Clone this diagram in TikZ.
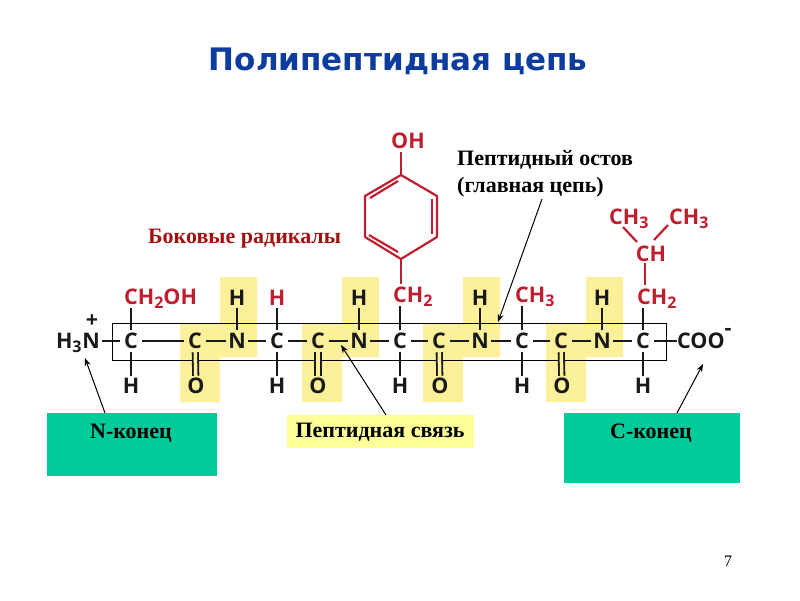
\documentclass[tikz,border=0pt]{standalone}
\usepackage{fontspec}
\usepackage{xcolor}
\usepackage{tikz}
\usetikzlibrary{positioning, arrows.meta}
\setmainfont{Liberation Serif}
\newfontfamily\chemfont{Open Sans}
\newfontfamily\titlefont{DejaVu Sans}
\definecolor{peptyellow}{HTML}{FDF09A}
\definecolor{labelyellow}{HTML}{FFFF99}
\definecolor{endgreen}{HTML}{00CC99}
\definecolor{sidered}{HTML}{BE1E2D}
\definecolor{labelred}{HTML}{A50F0F}
\definecolor{titleblue}{HTML}{0B3C9E}
\newcommand{\subatom}[1]{\raisebox{-3.5pt}{\fontsize{16}{16}\selectfont #1}}
\tikzset{
  atom/.style={font=\chemfont\bfseries\fontsize{21.5}{22}\selectfont, text=black!90, inner sep=0pt, minimum width=22pt, minimum height=22pt, text height=15pt, text depth=0pt},
  hatom/.style={atom, minimum width=14pt, minimum height=20pt},
  group/.style={font=\chemfont\bfseries\fontsize{21.5}{22}\selectfont, text=sidered, inner xsep=0pt, inner ysep=3pt, text height=15pt, text depth=0pt},
  bond/.style={draw=black!90, line width=2pt},
  sidebond/.style={draw=sidered, line width=2.2pt},
  dblbond/.style={bond, double=peptyellow, double distance=3.5pt, line width=1.8pt},
  pepblock/.style={fill=peptyellow, draw=none},
  caption/.style={font=\bfseries\fontsize{22}{27}\selectfont, inner sep=0pt},
  endbox/.style={fill=endgreen, draw=none, inner sep=0pt},
  pointer/.style={-{Stealth[length=8pt, width=6pt]}, black, line width=1pt}
}
\begin{document}
\begin{tikzpicture}[x=1pt, y=-1pt]
  \useasboundingbox (0,0) rectangle (800,600);

  \node[font=\titlefont\bfseries\fontsize{31}{31}\selectfont, text=titleblue, inner sep=0pt](title) at (398,61){Полипептидная цепь};

  \foreach \xs in {180,302,423,546}{
    \fill[pepblock] (\xs,323) -- (\xs+40,323) -- (\xs+40,277) -- (\xs+77,277) -- (\xs+77,357) -- (\xs+40,357) -- (\xs+40,402) -- (\xs,402) -- cycle;
  }
  \node[draw=black, line width=1pt, minimum width=554pt, minimum height=37pt, inner sep=0pt](backbone) at (389,341.5){};

  \node[atom](n0) at (91,341){N};
  \node[atom, left=-2pt of n0](h3){H\subatom{3}};
  \node[atom, minimum height=8pt, text height=11pt](plus) at (92,322){+};
  \node[atom](c1) at (131,341){C};
  \node[atom](c2) at (195,341){C};
  \node[atom](n1) at (237,341){N};
  \node[atom](c3) at (277,341){C};
  \node[atom](c4) at (318,341){C};
  \node[atom](n2) at (359,341){N};
  \node[atom](c5) at (400,341){C};
  \node[atom](c6) at (439,341){C};
  \node[atom](n3) at (480,341){N};
  \node[atom](c7) at (522,341){C};
  \node[atom](c8) at (561,341){C};
  \node[atom](n4) at (602,341){N};
  \node[atom](c9) at (643,341){C};
  \node[atom, anchor=west, inner sep=0pt](coo) at (677,341){COO};
  \node[atom, minimum height=6pt, minimum width=8pt, text height=6pt](minus) at (728,332){-};

  \draw[bond] (n0) -- (c1);
  \draw[bond] (c1) -- (c2);
  \draw[bond] (c2) -- (n1);
  \draw[bond] (n1) -- (c3);
  \draw[bond] (c3) -- (c4);
  \draw[bond] (c4) -- (n2);
  \draw[bond] (n2) -- (c5);
  \draw[bond] (c5) -- (c6);
  \draw[bond] (c6) -- (n3);
  \draw[bond] (n3) -- (c7);
  \draw[bond] (c7) -- (c8);
  \draw[bond] (c8) -- (n4);
  \draw[bond] (n4) -- (c9);
  \draw[bond] (c9) -- (coo);

  \node[hatom](h1) at (131,386){H};
  \node[hatom](h2) at (277,386){H};
  \node[hatom](h4) at (400,386){H};
  \node[hatom](h5) at (522,386){H};
  \node[hatom](h6) at (643,386){H};
  \draw[bond] (c1) -- (h1);
  \draw[bond] (c3) -- (h2);
  \draw[bond] (c5) -- (h4);
  \draw[bond] (c7) -- (h5);
  \draw[bond] (c9) -- (h6);

  \node[hatom](o1) at (196,386){O};
  \node[hatom](o2) at (318,386){O};
  \node[hatom](o3) at (440,386){O};
  \node[hatom](o4) at (562,386){O};
  \draw[dblbond] (c2) -- (o1);
  \draw[dblbond] (c4) -- (o2);
  \draw[dblbond] (c6) -- (o3);
  \draw[dblbond] (c8) -- (o4);

  \node[hatom](hn1) at (237,298){H};
  \node[hatom](hn2) at (359,298){H};
  \node[hatom](hn3) at (480,298){H};
  \node[hatom](hn4) at (602,298){H};
  \draw[bond] (n1) -- (hn1);
  \draw[bond] (n2) -- (hn2);
  \draw[bond] (n3) -- (hn3);
  \draw[bond] (n4) -- (hn4);

  \node[group, anchor=west](ch2oh) at (124,297){CH\subatom{2}OH};
  \node[hatom, text=sidered](hr) at (277,298){H};
  \node[group, anchor=west](ch2a) at (393,295){CH\subatom{2}};
  \node[group, anchor=west](ch3a) at (515,295){CH\subatom{3}};
  \node[group, anchor=west](ch2b) at (637,297){CH\subatom{2}};
  \node[group, anchor=center](chb) at (651,254){CH};
  \node[group, anchor=west](ch3b) at (609,217){CH\subatom{3}};
  \node[group, anchor=west](ch3c) at (669,217){CH\subatom{3}};
  \node[group, anchor=center](oh) at (408,141){OH};

  \draw[bond] (c1) -- (c1 |- ch2oh.south);
  \draw[bond] (c3) -- (hr);
  \draw[bond] (c5) -- (c5 |- ch2a.south);
  \draw[bond] (c7) -- (c7 |- ch3a.south);
  \draw[bond] (c9) -- (c9 |- ch2b.south);

  \coordinate (r1) at (401,175);
  \coordinate (r2) at (437,196);
  \coordinate (r3) at (437,237);
  \coordinate (r4) at (401,259);
  \coordinate (r5) at (365,237);
  \coordinate (r6) at (365,196);
  \draw[sidebond, line join=round] (r1) -- (r2) -- (r3) -- (r4) -- (r5) -- (r6) -- cycle;
  \draw[sidebond] (370,198) -- (398,181);
  \draw[sidebond] (432,199) -- (432,234);
  \draw[sidebond] (369,235) -- (398,252);
  \draw[sidebond] (r1) -- (r1 |- oh.south);
  \draw[sidebond] (r4) -- (r4 |- ch2a.north);

  \draw[sidebond] (645,263) -- (645,285);
  \draw[sidebond] (623,227) -- (637,242);
  \draw[sidebond] (668,225) -- (654,240);

  \node[caption, text=labelred, anchor=west](radicals) at (148,239){Боковые радикалы};
  \node[caption, anchor=north west, align=left](ostov) at (457,150){Пептидный остов\\(главная цепь)};

  \node[endbox, minimum width=170pt, minimum height=63pt, anchor=north west](nend) at (47,413){};
  \node[endbox, minimum width=176pt, minimum height=70pt, anchor=north west](cend) at (564,413){};
  \node[caption](nendtext) at (131,433){N-конец};
  \node[caption](cendtext) at (651,433){С-конец};
  \node[caption, fill=labelyellow, minimum width=187pt, minimum height=33pt, anchor=north west](bondlabel) at (287,415){};
  \node[caption](bondtext) at (380,432){Пептидная связь};

  \coordinate (ntip) at (85,358);
  \coordinate (ctip) at (703,364);
  \coordinate (bondtip) at (341,345);
  \coordinate (ostovtip) at (498,322);
  \coordinate (ostovtail) at (542,199);
  \coordinate (ntail) at (105,413);
  \coordinate (ctail) at (677,413);
  \coordinate (bondtail) at (386,415);
  \draw[pointer] (ntail) -- (ntip);
  \draw[pointer] (ctail) -- (ctip);
  \draw[pointer] (bondtail) -- (bondtip);
  \draw[pointer] (ostovtail) -- (ostovtip);

  \node[font=\fontsize{16}{16}\selectfont, inner sep=0pt](pagenum) at (728,561){7};
\end{tikzpicture}
\end{document}
